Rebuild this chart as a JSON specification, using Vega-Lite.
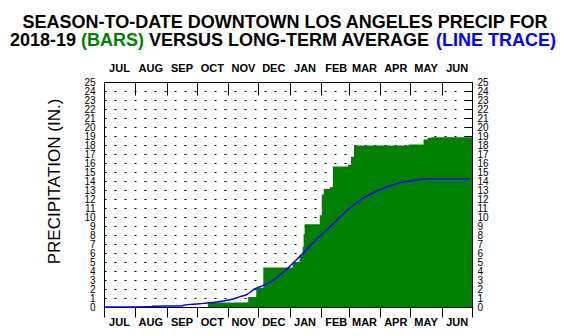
{
  "$schema": "https://vega.github.io/schema/vega-lite/v6.json",
  "width": 368,
  "height": 225,
  "autosize": {"type": "none"},
  "padding": {"left": 104, "top": 82, "right": 92, "bottom": 29},
  "background": "white",
  "title": {
    "text": "SEASON-TO-DATE DOWNTOWN LOS ANGELES PRECIP FOR",
    "font": "Liberation Sans",
    "fontSize": 18,
    "fontWeight": "bold",
    "color": "black",
    "anchor": "middle",
    "baseline": "alphabetic",
    "offset": 8,
    "dx": -3,
    "dy": 22
  },
  "config": {
    "view": {"stroke": "black", "strokeWidth": 1},
    "font": "Liberation Sans",
    "axis": {"domain": false, "labelFont": "Liberation Sans", "titleFont": "Liberation Sans"}
  },
  "resolve": {"axis": {"x": "independent", "y": "independent"}},
  "datasets": {
    "season": [
      {"day": 0, "in": 0},
      {"day": 103, "in": 0.5},
      {"day": 143, "in": 1.1},
      {"day": 151, "in": 2.15},
      {"day": 158, "in": 4.38},
      {"day": 187, "in": 5.0},
      {"day": 194, "in": 5.8},
      {"day": 197, "in": 6.7},
      {"day": 198, "in": 8.1},
      {"day": 199, "in": 9.2},
      {"day": 214, "in": 10.2},
      {"day": 216, "in": 12.5},
      {"day": 218, "in": 13.1},
      {"day": 224, "in": 13.3},
      {"day": 227, "in": 15.6},
      {"day": 242, "in": 15.8},
      {"day": 245, "in": 16.7},
      {"day": 248, "in": 17.95},
      {"day": 302, "in": 18.06},
      {"day": 317, "in": 18.6},
      {"day": 321, "in": 18.8},
      {"day": 325, "in": 18.87},
      {"day": 365, "in": 18.87}
    ],
    "normal": [
      {"day": 0, "in": 0},
      {"day": 47, "in": 0.02},
      {"day": 48, "in": 0.08},
      {"day": 78, "in": 0.12},
      {"day": 79, "in": 0.2},
      {"day": 95, "in": 0.35},
      {"day": 102, "in": 0.45},
      {"day": 115, "in": 0.6},
      {"day": 125, "in": 0.8},
      {"day": 135, "in": 1.15},
      {"day": 142, "in": 1.4},
      {"day": 148, "in": 1.9},
      {"day": 158, "in": 2.4},
      {"day": 165, "in": 2.8},
      {"day": 175, "in": 3.6},
      {"day": 184, "in": 4.5},
      {"day": 194, "in": 5.6},
      {"day": 207, "in": 7.1},
      {"day": 224, "in": 8.9},
      {"day": 244, "in": 11.0},
      {"day": 257, "in": 12.1},
      {"day": 274, "in": 13.05},
      {"day": 290, "in": 13.7},
      {"day": 306, "in": 14.05},
      {"day": 323, "in": 14.24},
      {"day": 363, "in": 14.26}
    ]
  },
  "layer": [
    {
      "data": {"name": "season"},
      "mark": {"type": "area", "interpolate": "step-after", "color": "#008000"},
      "encoding": {
        "x": {
          "field": "day", "type": "quantitative",
          "scale": {"domain": [0, 365], "nice": false, "zero": false},
          "axis": {
            "orient": "bottom",
            "values": [0, 31, 62, 92, 123, 153, 184, 215, 243, 274, 304, 335, 365],
            "labelExpr": "datum.value >= 365 ? '' : ['JUL','AUG','SEP','OCT','NOV','DEC','JAN','FEB','MAR','APR','MAY','JUN'][indexof([0,31,62,92,123,153,184,215,243,274,304,335], datum.value)]",
            "labelOffset": 15,
            "labelAlign": "center",
            "tickSize": 10,
            "tickColor": "black",
            "labelPadding": 8.5,
            "labelBaseline": "alphabetic",
            "labelFontSize": 11,
            "labelFontWeight": "bold",
            "labelColor": "black",
            "labelFlush": false,
            "labelOverlap": false,
            "grid": false,
            "title": null
          }
        },
        "y": {
          "field": "in", "type": "quantitative",
          "scale": {"domain": [0, 25], "nice": false},
          "axis": {
            "orient": "left",
            "values": [0,1,2,3,4,5,6,7,8,9,10,11,12,13,14,15,16,17,18,19,20,21,22,23,24,25],
            "ticks": false,
            "labelPadding": 9,
            "labelFontSize": 10,
            "labelColor": "black",
            "labelOverlap": false,
            "labelFlush": false,
            "grid": true,
            "gridColor": "black",
            "gridDash": [2, 8],
            "gridOpacity": 1,
            "gridWidth": 1,
            "title": "PRECIPITATION (IN.)",
            "titleFontSize": 17,
            "titleFontWeight": "normal",
            "titleColor": "black",
            "titleAngle": -90,
            "titleAlign": "center",
            "titleBaseline": "middle",
            "titleX": -50,
            "titleY": 99
          }
        }
      }
    },
    {
      "data": {"name": "normal"},
      "mark": {"type": "line", "color": "#0000ff", "strokeWidth": 1.5, "interpolate": "monotone"},
      "encoding": {
        "x": {
          "field": "day", "type": "quantitative",
          "scale": {"domain": [0, 365], "nice": false, "zero": false},
          "axis": {
            "orient": "top",
            "values": [0, 31, 62, 92, 123, 153, 184, 215, 243, 274, 304, 335, 365],
            "labelExpr": "datum.value >= 365 ? '' : ['JUL','AUG','SEP','OCT','NOV','DEC','JAN','FEB','MAR','APR','MAY','JUN'][indexof([0,31,62,92,123,153,184,215,243,274,304,335], datum.value)]",
            "labelOffset": 15,
            "labelAlign": "center",
            "tickSize": -13,
            "tickColor": "black",
            "labelPadding": 23.3,
            "labelBaseline": "alphabetic",
            "labelFontSize": 11,
            "labelFontWeight": "bold",
            "labelColor": "black",
            "labelFlush": false,
            "labelOverlap": false,
            "grid": false,
            "title": null
          }
        },
        "y": {
          "field": "in", "type": "quantitative",
          "scale": {"domain": [0, 25], "nice": false},
          "axis": {
            "orient": "right",
            "values": [0,1,2,3,4,5,6,7,8,9,10,11,12,13,14,15,16,17,18,19,20,21,22,23,24,25],
            "tickSize": -8,
            "tickColor": "black",
            "labelPadding": 13,
            "labelFontSize": 10,
            "labelColor": "black",
            "labelOverlap": false,
            "labelFlush": false,
            "grid": false,
            "title": null
          }
        }
      }
    },
    {
      "data": {"values": [{}]},
      "mark": {"type": "text", "align": "left", "baseline": "alphabetic", "font": "Liberation Sans", "fontSize": 18, "fontWeight": "bold", "color": "black"},
      "encoding": {
        "x": {"datum": -93.23, "type": "quantitative", "axis": null},
        "y": {"datum": 29.0, "type": "quantitative", "axis": null},
        "text": {"value": "2018-19"}
      }
    },
    {
      "data": {"values": [{}]},
      "mark": {"type": "text", "align": "left", "baseline": "alphabetic", "font": "Liberation Sans", "fontSize": 18, "fontWeight": "bold", "color": "#008000"},
      "encoding": {
        "x": {"datum": -22.76, "type": "quantitative", "axis": null},
        "y": {"datum": 29.0, "type": "quantitative", "axis": null},
        "text": {"value": "(BARS)"}
      }
    },
    {
      "data": {"values": [{}]},
      "mark": {"type": "text", "align": "left", "baseline": "alphabetic", "font": "Liberation Sans", "fontSize": 18, "fontWeight": "bold", "color": "black"},
      "encoding": {
        "x": {"datum": 44.66, "type": "quantitative", "axis": null},
        "y": {"datum": 29.0, "type": "quantitative", "axis": null},
        "text": {"value": "VERSUS LONG-TERM AVERAGE"}
      }
    },
    {
      "data": {"values": [{}]},
      "mark": {"type": "text", "align": "left", "baseline": "alphabetic", "font": "Liberation Sans", "fontSize": 18, "fontWeight": "bold", "color": "#0000ff"},
      "encoding": {
        "x": {"datum": 329.35, "type": "quantitative", "axis": null},
        "y": {"datum": 29.0, "type": "quantitative", "axis": null},
        "text": {"value": "(LINE TRACE)"}
      }
    }
  ]
}
